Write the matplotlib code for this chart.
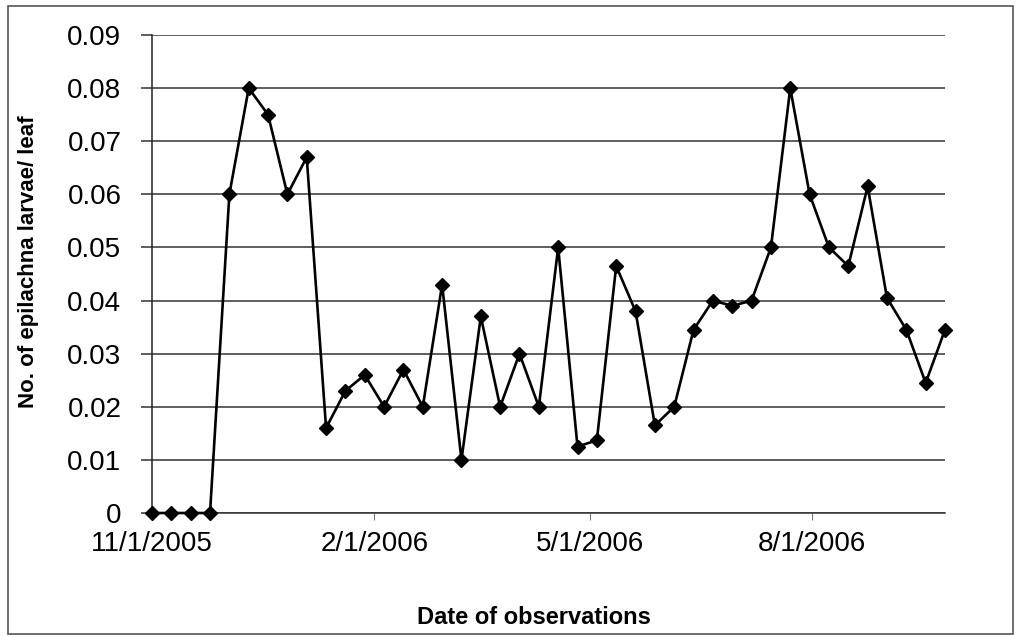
import matplotlib
matplotlib.use("Agg")
import matplotlib.pyplot as plt
from matplotlib.patches import Rectangle
import pandas as pd

# Observation dates (every 8 days) and larvae counts per leaf
obs_dates = [
    "2005-11-01", "2005-11-09", "2005-11-17", "2005-11-25", "2005-12-03",
    "2005-12-11", "2005-12-19", "2005-12-27", "2006-01-04", "2006-01-12",
    "2006-01-20", "2006-01-28", "2006-02-05", "2006-02-13", "2006-02-21",
    "2006-03-01", "2006-03-09", "2006-03-17", "2006-03-25", "2006-04-02",
    "2006-04-10", "2006-04-18", "2006-04-26", "2006-05-04", "2006-05-12",
    "2006-05-20", "2006-05-28", "2006-06-05", "2006-06-13", "2006-06-21",
    "2006-06-29", "2006-07-07", "2006-07-15", "2006-07-23", "2006-07-31",
    "2006-08-08", "2006-08-16", "2006-08-24", "2006-09-01", "2006-09-09",
    "2006-09-17", "2006-09-25",
]
larvae_per_leaf = [
    0.0, 0.0, 0.0, 0.0, 0.060,
    0.080, 0.075, 0.060, 0.067, 0.016,
    0.023, 0.026, 0.020, 0.027, 0.020,
    0.043, 0.010, 0.037, 0.020, 0.030,
    0.020, 0.050, 0.0125, 0.0137, 0.0465,
    0.038, 0.0165, 0.020, 0.0345, 0.040,
    0.039, 0.040, 0.050, 0.080, 0.060,
    0.050, 0.0465, 0.0615, 0.0405, 0.0345,
    0.0245, 0.0345,
]
xtick_dates = ["2005-11-01", "2006-02-01", "2006-05-01", "2006-08-01"]
xtick_labels = ["11/1/2005", "2/1/2006", "5/1/2006", "8/1/2006"]
ytick_values = [0, 0.01, 0.02, 0.03, 0.04, 0.05, 0.06, 0.07, 0.08, 0.09]
ytick_labels = ["0", "0.01", "0.02", "0.03", "0.04", "0.05", "0.06", "0.07", "0.08", "0.09"]

plt.rcParams["font.family"] = ["Liberation Sans", "DejaVu Sans"]

W, H = 1019, 637
dates = pd.to_datetime(obs_dates)

fig = plt.figure(figsize=(W / 100, H / 100), dpi=100)
ax = fig.add_axes([152 / W, 1 - 513 / H, (945 - 152) / W, (513 - 35) / H])

# Outer chart border
fig.patches.append(Rectangle((8 / W, 3 / H), 1005 / W, 628 / H,
                             transform=fig.transFigure, fill=False,
                             edgecolor="#555555", linewidth=1.2))

ax.plot(dates, larvae_per_leaf, color="black", linewidth=1.9,
        marker="D", markersize=7.5, markerfacecolor="black",
        markeredgecolor="black", zorder=3, clip_on=False)

ax.set_xlim(dates[0], dates[-1])
ax.set_ylim(0, 0.09)

ax.set_yticks(ytick_values)
ax.set_yticklabels(ytick_labels)
ax.set_xticks(pd.to_datetime(xtick_dates))
ax.set_xticklabels(xtick_labels)

ax.yaxis.grid(True, color="#333333", linewidth=1.1)
ax.set_axisbelow(True)

for side in ("top", "right"):
    ax.spines[side].set_visible(False)
ax.spines["left"].set_color("#222222")
ax.spines["bottom"].set_color("#333333")
ax.spines["left"].set_linewidth(1.1)
ax.spines["bottom"].set_linewidth(1.1)

ax.tick_params(axis="y", direction="out", length=8, width=1.1,
               color="#333333", pad=14, labelsize=20)
ax.tick_params(axis="x", direction="out", length=5, width=0.8,
               color="#777777", pad=8, labelsize=20)

# Axis titles
fig.text(534 / W, 1 - 617 / H, "Date of observations", fontsize=17,
         fontweight="bold", ha="center", va="center")
fig.text(29 / W, 1 - 262 / H, "No. of epilachna larvae/ leaf", fontsize=16,
         fontweight="bold", ha="center", va="center", rotation=90)

fig.savefig("out.png", dpi=100, facecolor="white")
